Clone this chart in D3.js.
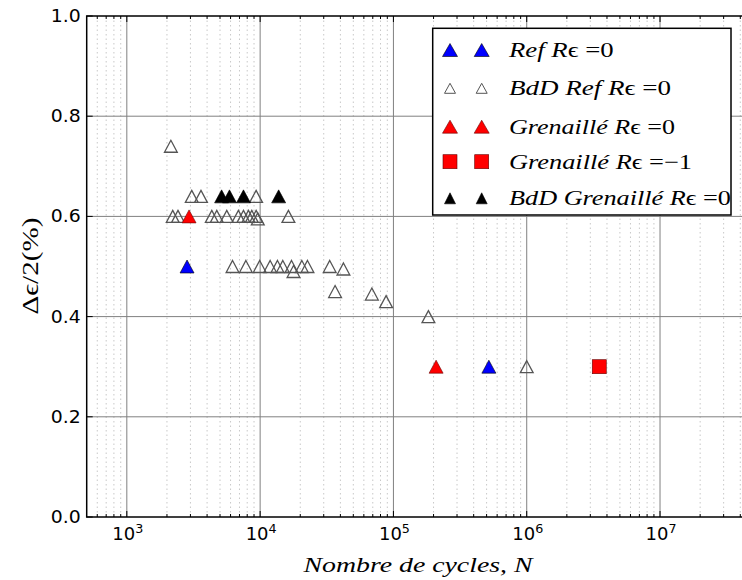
<!DOCTYPE html>
<html><head><meta charset="utf-8">
<script src="https://cdn.jsdelivr.net/npm/d3@7"></script>
<style>body{margin:0;background:#fff}svg{display:block}</style>
</head><body>
<svg id="c" width="742" height="580"></svg>
<script>
// ---- data ----
const xTicks = [1e3, 1e4, 1e5, 1e6, 1e7];
const yTicks = [0.0, 0.2, 0.4, 0.6, 0.8, 1.0];
const refN = [2830, 5.2e5];
const refS = [0.5, 0.3];
const bddRefN = [2140, 3070, 3600, 9330, 2210, 2420, 4340, 4730, 5620, 6870, 7500, 8170, 8660, 9330, 9600, 16300,
  6210, 7820, 9930, 11890, 13490, 14800, 17200, 17800, 20560, 22650, 33270, 42170, 36500, 68900, 88100, 1.83e5, 1e6];
const bddRefS = [0.74, 0.64, 0.64, 0.64, 0.6, 0.6, 0.6, 0.6, 0.6, 0.6, 0.6, 0.6, 0.6, 0.6, 0.595, 0.6,
  0.5, 0.5, 0.5, 0.5, 0.5, 0.5, 0.5, 0.49, 0.5, 0.5, 0.5, 0.495, 0.45, 0.445, 0.43, 0.4, 0.3];
const grenN = [2930, 2.09e5];
const grenS = [0.6, 0.3];
const grenM1N = [3.5e6];
const grenM1S = [0.3];
const bddGrenN = [5140, 5890, 7500, 13770];
const bddGrenS = [0.64, 0.64, 0.64, 0.64];
const legendLabels = [
  [["Ref", "i"], [" R", "i"], ["ϵ", "n"], [" =0", "n"]],
  [["BdD Ref", "i"], [" R", "i"], ["ϵ", "n"], [" =0", "n"]],
  [["Grenaillé", "i"], [" R", "i"], ["ϵ", "n"], [" =0", "n"]],
  [["Grenaillé", "i"], [" R", "i"], ["ϵ", "n"], [" =−1", "n"]],
  [["BdD Grenaillé", "i"], [" R", "i"], ["ϵ", "n"], [" =0", "n"]]
];
const legendWidths = [106, 162, 166, 183, 222];

// ---- layout ----
const svg = d3.select("#c");
const L = 86.7, T = 16, B = 517, R = 753.2;
const x = d3.scaleLog().domain([500, 5e7]).range([L, R]);
const y = d3.scaleLinear().domain([0, 1]).range([B, T]);

// helper: stretch a group horizontally so its content has width w
function fitWidth(grp, w, tx, ty, rot) {
  const bw = grp.node().getBBox().width;
  const k = bw > 0 ? w / bw : 1;
  grp.attr("transform", `translate(${tx},${ty})` + (rot ? ` rotate(${rot})` : "") + ` scale(${k},1)`);
}

const g = svg.append("g");
const minor = [];
for (let e = 2; e <= 7; e++) for (let k = 2; k <= 9; k++) { const v = k * Math.pow(10, e); if (v > 500 && v < 5e7) minor.push(v); }
g.selectAll(".mg").data(minor).enter().append("line")
  .attr("x1", d => x(d)).attr("x2", d => x(d)).attr("y1", T).attr("y2", B)
  .attr("stroke", "#c8c8c8").attr("stroke-width", 1).attr("stroke-dasharray", "1.5,3");
g.selectAll(".gx").data(xTicks).enter().append("line")
  .attr("x1", d => x(d)).attr("x2", d => x(d)).attr("y1", T).attr("y2", B)
  .attr("stroke", "#808080").attr("stroke-width", 1);
g.selectAll(".gy").data(yTicks.slice(1, -1)).enter().append("line")
  .attr("x1", L).attr("x2", R).attr("y1", d => y(d)).attr("y2", d => y(d))
  .attr("stroke", "#808080").attr("stroke-width", 1);

function ticksX(vals, len) {
  g.selectAll(null).data(vals).enter().append("line")
    .attr("x1", d => x(d)).attr("x2", d => x(d)).attr("y1", B).attr("y2", B - len)
    .attr("stroke", "#000").attr("stroke-width", 1);
  g.selectAll(null).data(vals).enter().append("line")
    .attr("x1", d => x(d)).attr("x2", d => x(d)).attr("y1", T).attr("y2", T + len)
    .attr("stroke", "#000").attr("stroke-width", 1);
}
ticksX(xTicks, 6); ticksX(minor, 3);
g.selectAll(null).data(yTicks).enter().append("line")
  .attr("x1", L).attr("x2", L + 6).attr("y1", d => y(d)).attr("y2", d => y(d))
  .attr("stroke", "#000").attr("stroke-width", 1);

g.append("rect").attr("x", L).attr("y", T).attr("width", R - L).attr("height", B - T)
  .attr("fill", "none").attr("stroke", "#000").attr("stroke-width", 1.5);

// tick labels
const sans = "DejaVu Sans, sans-serif";
yTicks.forEach(v => {
  const gg = svg.append("g");
  gg.append("text").attr("x", 0).attr("y", 0).attr("text-anchor", "end")
    .attr("font-family", sans).attr("font-size", 17).attr("fill", "#000").text(v.toFixed(1));
  fitWidth(gg, 30, L - 6, y(v) + 6, 0);
});
xTicks.forEach(v => {
  const gg = svg.append("g");
  const t = gg.append("text").attr("x", 0).attr("y", 0).attr("text-anchor", "middle")
    .attr("font-family", sans).attr("font-size", 17).attr("fill", "#000");
  t.append("tspan").text("10");
  t.append("tspan").attr("dy", -7).attr("font-size", 12).text(Math.round(Math.log10(v)));
  fitWidth(gg, 31, x(v) + 1, 540, 0);
});

// axis labels
const serif = "Liberation Serif, DejaVu Serif, serif";
const xg = svg.append("g");
xg.append("text").attr("x", 0).attr("y", 0).attr("text-anchor", "middle")
  .attr("font-family", serif).attr("font-style", "italic").attr("font-size", 22)
  .text("Nombre de cycles, N");
fitWidth(xg, 232, 418, 572, 0);
const yg = svg.append("g");
const yl = yg.append("text").attr("x", 0).attr("y", 0).attr("text-anchor", "middle")
  .attr("font-family", serif).attr("font-size", 24);
yl.append("tspan").text("Δ");
yl.append("tspan").text("ϵ");
yl.append("tspan").text("/2(%)");
fitWidth(yg, 97, 38, 266, -90);

// markers
const tri = (cx, cy, hw, hh) => `M${cx},${cy - hh}L${cx + hw},${cy + hh}L${cx - hw},${cy + hh}Z`;
function triangles(N, S, fill, stroke, sw, hw, hh) {
  g.selectAll(null).data(N.map((n, i) => [n, S[i]])).enter().append("path")
    .attr("d", d => tri(x(d[0]), y(d[1]), hw, hh))
    .attr("fill", fill).attr("stroke", stroke).attr("stroke-width", sw);
}
triangles(refN, refS, "#0000ff", "#000", 0.6, 7, 6.5);
triangles(bddRefN, bddRefS, "none", "#555", 1.3, 6.4, 6);
triangles(grenN, grenS, "#ff0000", "#600", 0.6, 7, 6.5);
g.selectAll(null).data(grenM1N.map((n, i) => [n, grenM1S[i]])).enter().append("rect")
  .attr("x", d => x(d[0]) - 7).attr("y", d => y(d[1]) - 7).attr("width", 14).attr("height", 14)
  .attr("fill", "#ff0000").attr("stroke", "#600").attr("stroke-width", 0.6);
triangles(bddGrenN, bddGrenS, "#000", "#000", 0.6, 7, 6.5);

// legend
const lg = svg.append("g");
lg.append("rect").attr("x", 432.7).attr("y", 28.3).attr("width", 298.3).attr("height", 186.7)
  .attr("fill", "#fff").attr("stroke", "#000").attr("stroke-width", 1.5);
const rowsY = [50, 88.3, 126.7, 161.7, 198.3];
const mx = [450, 481.7];
const styles = [
  {type: "tri", fill: "#0000ff", stroke: "#000", sw: 0.6, hw: 7.5, hh: 6.5},
  {type: "tri", fill: "none", stroke: "#555", sw: 1, hw: 5.5, hh: 5},
  {type: "tri", fill: "#ff0000", stroke: "#600", sw: 0.6, hw: 7.5, hh: 6.5},
  {type: "sq", fill: "#ff0000", stroke: "#600", sw: 0.6, hw: 7, hh: 7},
  {type: "tri", fill: "#000", stroke: "#000", sw: 0.6, hw: 5.5, hh: 5.5}
];
styles.forEach((s, i) => {
  mx.forEach(cx => {
    if (s.type === "tri") lg.append("path").attr("d", tri(cx, rowsY[i], s.hw, s.hh))
      .attr("fill", s.fill).attr("stroke", s.stroke).attr("stroke-width", s.sw);
    else lg.append("rect").attr("x", cx - s.hw).attr("y", rowsY[i] - s.hh).attr("width", 2 * s.hw).attr("height", 2 * s.hh)
      .attr("fill", s.fill).attr("stroke", s.stroke).attr("stroke-width", s.sw);
  });
  const tg = lg.append("g");
  const t = tg.append("text").attr("x", 0).attr("y", 0)
    .attr("font-family", serif).attr("font-size", 21);
  legendLabels[i].forEach(p => t.append("tspan").attr("font-style", p[1] === "i" ? "italic" : "normal").text(p[0]));
  fitWidth(tg, legendWidths[i], 509, rowsY[i] + 7, 0);
});
</script>
</body></html>
